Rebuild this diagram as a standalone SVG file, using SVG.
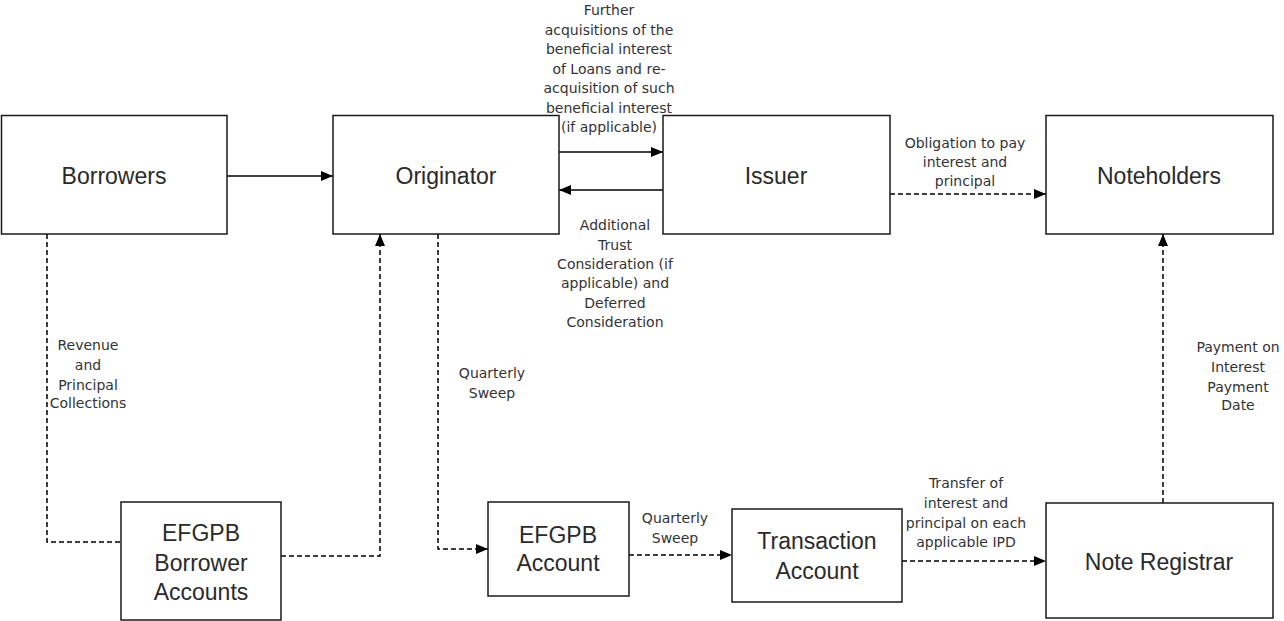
<svg xmlns="http://www.w3.org/2000/svg" width="1284" height="621" viewBox="0 0 1284 621">
<style>
.box{fill:#fff;stroke:#1a1a1a;stroke-width:1.5}
.nl{font-family:"Liberation Sans",Arial,sans-serif;font-size:23px;fill:#2a2a2a;text-anchor:middle;dominant-baseline:central}
.el{font-family:"DejaVu Sans",sans-serif;font-size:14px;fill:#333;text-anchor:middle;dominant-baseline:central}
.solid{fill:none;stroke:#000;stroke-width:1.5}
.dash{fill:none;stroke:#000;stroke-width:1.5;stroke-dasharray:5 3}
</style>
<defs>
<marker id="ah" viewBox="0 0 12 10" refX="12" refY="5" markerWidth="12" markerHeight="10" markerUnits="userSpaceOnUse" orient="auto">
<path d="M0,0 L12,5 L0,10 z" fill="#000"/>
</marker>
</defs>
<rect width="1284" height="621" fill="#fff"/>
<g id="connectors">
<path class="solid" d="M227,176 H333" marker-end="url(#ah)"/>
<path class="solid" d="M559,152 H663" marker-end="url(#ah)"/>
<path class="solid" d="M663,190 H559" marker-end="url(#ah)"/>
<path class="dash" d="M890,194 H1046" marker-end="url(#ah)"/>
<path class="dash" d="M47,234 V542 H121"/>
<path class="dash" d="M281,556 H380 V234" marker-end="url(#ah)"/>
<path class="dash" d="M438,234 V549 H488" marker-end="url(#ah)"/>
<path class="dash" d="M629,555 H732" marker-end="url(#ah)"/>
<path class="dash" d="M902,561 H1046" marker-end="url(#ah)"/>
<path class="dash" d="M1163,503 V234" marker-end="url(#ah)"/>
</g>
<g id="edge-labels">
<text class="el" x="609" y="10">Further</text>
<text class="el" x="609" y="29.5">acquisitions of the</text>
<text class="el" x="609" y="49">beneficial interest</text>
<text class="el" x="609" y="68.5">of Loans and re-</text>
<text class="el" x="609" y="88">acquisition of such</text>
<text class="el" x="609" y="107.5">beneficial interest</text>
<text class="el" x="609" y="127">(if applicable)</text>
<text class="el" x="615" y="225">Additional</text>
<text class="el" x="615" y="244.5">Trust</text>
<text class="el" x="615" y="264">Consideration (if</text>
<text class="el" x="615" y="283">applicable) and</text>
<text class="el" x="615" y="303">Deferred</text>
<text class="el" x="615" y="322">Consideration</text>
<text class="el" x="965" y="143">Obligation to pay</text>
<text class="el" x="965" y="162">interest and</text>
<text class="el" x="965" y="181">principal</text>
<text class="el" x="88" y="345">Revenue</text>
<text class="el" x="88" y="365">and</text>
<text class="el" x="88" y="385">Principal</text>
<text class="el" x="88" y="403">Collections</text>
<text class="el" x="492" y="373">Quarterly</text>
<text class="el" x="492" y="393">Sweep</text>
<text class="el" x="675" y="518">Quarterly</text>
<text class="el" x="675" y="538">Sweep</text>
<text class="el" x="966" y="483">Transfer of</text>
<text class="el" x="966" y="503">interest and</text>
<text class="el" x="966" y="523">principal on each</text>
<text class="el" x="966" y="542">applicable IPD</text>
<text class="el" x="1238" y="347">Payment on</text>
<text class="el" x="1238" y="367">Interest</text>
<text class="el" x="1238" y="387">Payment</text>
<text class="el" x="1238" y="405">Date</text>
</g>
<g id="borrowers">
<rect class="box" x="1.5" y="115.5" width="225.5" height="118.5"/>
<text class="nl" x="114" y="176">Borrowers</text>
</g>
<g id="originator">
<rect class="box" x="333" y="115.5" width="226" height="118.5"/>
<text class="nl" x="446" y="176">Originator</text>
</g>
<g id="issuer">
<rect class="box" x="663" y="115.5" width="227" height="118.5"/>
<text class="nl" x="776" y="176">Issuer</text>
</g>
<g id="noteholders">
<rect class="box" x="1046" y="115.5" width="227" height="118.5"/>
<text class="nl" x="1159" y="176">Noteholders</text>
</g>
<g id="efgpb-borrower-accounts">
<rect class="box" x="121" y="502" width="160" height="118"/>
<text class="nl" x="201" y="533">EFGPB</text>
<text class="nl" x="201" y="563">Borrower</text>
<text class="nl" x="201" y="592">Accounts</text>
</g>
<g id="efgpb-account">
<rect class="box" x="488" y="502" width="141" height="94"/>
<text class="nl" x="558" y="535">EFGPB</text>
<text class="nl" x="558" y="563">Account</text>
</g>
<g id="transaction-account">
<rect class="box" x="732" y="509" width="170" height="93"/>
<text class="nl" x="817" y="541">Transaction</text>
<text class="nl" x="817" y="571">Account</text>
</g>
<g id="note-registrar">
<rect class="box" x="1046" y="503" width="227" height="115"/>
<text class="nl" x="1159" y="562">Note Registrar</text>
</g>
</svg>
